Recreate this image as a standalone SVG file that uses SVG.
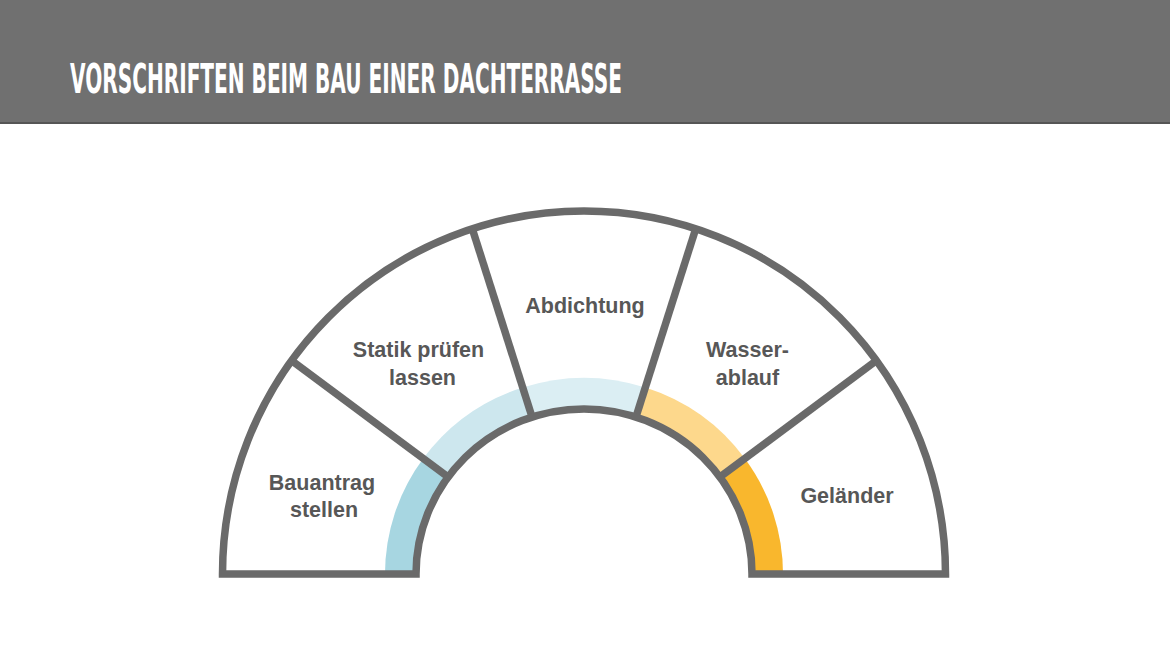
<svg xmlns="http://www.w3.org/2000/svg" width="1170" height="658" viewBox="0 0 1170 658">
  <style>
    .title { font-family: "Liberation Sans Narrow", "DejaVu Sans Condensed", "Liberation Sans", sans-serif; font-weight: bold; font-size: 41px; fill: #ffffff; font-stretch: condensed; }
    .lbl { font-family: "Liberation Sans", Arial, sans-serif; font-weight: bold; font-size: 21.5px; fill: #575757; text-anchor: middle; }
    .div { stroke: #6a6a6a; stroke-width: 7.5; stroke-linecap: butt; fill: none; }
    .outline { stroke: #6a6a6a; stroke-width: 7.5; fill: none; stroke-linejoin: miter; }
  </style>
  <rect x="0" y="0" width="1170" height="658" fill="#ffffff"/>
  <g id="header">
    <rect x="0" y="0" width="1170" height="124" fill="#707070"/>
    <rect x="0" y="122" width="1170" height="2" fill="#555555"/>
    <text class="title" x="70" y="93" textLength="552" lengthAdjust="spacingAndGlyphs">VORSCHRIFTEN BEIM BAU EINER DACHTERRASSE</text>
  </g>
  <g id="node-bauantrag">
    <path d="M584,574 L423.0,458.8 A199 196 0 0 0 385,574 Z" fill="#a7d6e1"/>
    <text class="lbl" x="322" y="490">Bauantrag</text>
    <text class="lbl" x="324" y="517">stellen</text>
  </g>
  <g id="node-statik">
    <path d="M584,574 L522.5,387.6 A199 196 0 0 0 423.0,458.8 Z" fill="#cde7ee"/>
    <text class="lbl" x="418.5" y="357">Statik prüfen</text>
    <text class="lbl" x="422.5" y="385">lassen</text>
  </g>
  <g id="node-abdichtung">
    <path d="M584,574 L645.5,387.6 A199 196 0 0 0 522.5,387.6 Z" fill="#dbeef3"/>
    <text class="lbl" x="585" y="313">Abdichtung</text>
  </g>
  <g id="node-wasserablauf">
    <path d="M584,574 L745.0,458.8 A199 196 0 0 0 645.5,387.6 Z" fill="#fdd88c"/>
    <text class="lbl" x="747.5" y="357">Wasser-</text>
    <text class="lbl" x="747.5" y="385">ablauf</text>
  </g>
  <g id="node-gelaender">
    <path d="M584,574 L783,574 A199 196 0 0 0 745.0,458.8 Z" fill="#f9b72d"/>
    <text class="lbl" x="847" y="503">Geländer</text>
  </g>
  <path id="inner-hole" d="M416,574 A168 165 0 0 1 752,574 Z" fill="#ffffff"/>
  <g id="connectors">
    <line class="div" x1="291.5" y1="360.6" x2="448.1" y2="477.0"/>
    <line class="div" x1="472.3" y1="228.8" x2="532.1" y2="417.1"/>
    <line class="div" x1="695.7" y1="228.8" x2="635.9" y2="417.1"/>
    <line class="div" x1="876.5" y1="360.6" x2="719.9" y2="477.0"/>
  </g>
  <path id="outline" class="outline" d="M222.5,574 A361.5 363 0 0 1 945.5,574 L752,574 A168 165 0 0 0 416,574 Z"/>
</svg>
